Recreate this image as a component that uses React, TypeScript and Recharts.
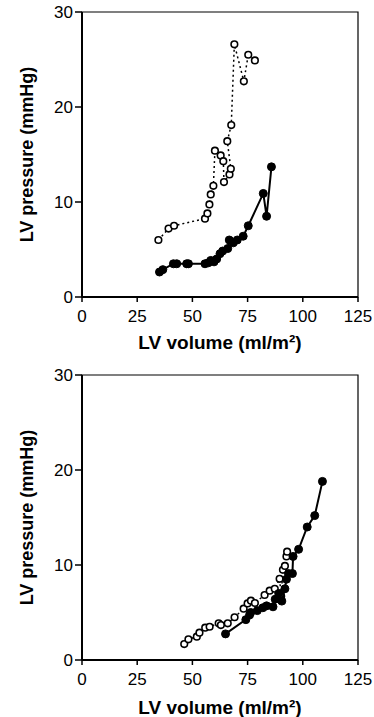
import React from "react";
import {
  ScatterChart,
  Scatter,
  XAxis,
  YAxis,
  ReferenceArea,
} from "recharts";

// valores (volume ml/m², pressão mmHg)
const volumeTicks = [0, 25, 50, 75, 100, 125];
const pressureTicks = [0, 10, 20, 30];

const topOpenVolume = [34.6, 39.2, 41.7, 55.7, 56.8, 57.7, 58.3, 59.5, 60.2, 62.8, 64.0, 64.3, 66.8, 67.4, 65.8, 67.6, 69.0, 73.3, 75.3, 78.3];
const topOpenPressure = [6.0, 7.2, 7.5, 8.25, 8.8, 9.75, 10.8, 11.7, 15.4, 14.9, 14.3, 12.1, 12.9, 13.5, 16.4, 18.1, 26.6, 22.7, 25.5, 24.9];

const topFilledVolume = [35.1, 36.6, 41.4, 42.9, 47.4, 48.2, 55.7, 57.2, 58.3, 59.8, 61.0, 62.5, 63.7, 66.0, 66.7, 68.5, 70.3, 73.0, 75.3, 82.1, 83.6, 85.8];
const topFilledPressure = [2.63, 2.88, 3.5, 3.5, 3.5, 3.5, 3.5, 3.6, 3.85, 3.7, 4.0, 4.56, 4.84, 5.1, 6.0, 5.7, 6.0, 6.4, 7.5, 10.9, 8.5, 13.7];

const bottomOpenVolume = [46.3, 48.2, 52.0, 53.2, 55.8, 57.8, 61.9, 62.9, 66.0, 69.1, 73.2, 75.0, 76.5, 78.3, 82.7, 85.0, 87.3, 89.5, 90.2, 91.0, 91.9, 92.6, 92.9];
const bottomOpenPressure = [1.68, 2.18, 2.46, 2.88, 3.4, 3.5, 3.86, 3.68, 3.86, 4.5, 5.4, 5.96, 6.25, 6.0, 6.84, 7.3, 7.5, 8.55, 6.7, 9.5, 9.9, 10.9, 11.4];

const bottomFilledVolume = [65.0, 74.2, 75.9, 76.4, 79.4, 81.9, 83.6, 86.5, 87.5, 89.1, 90.5, 91.9, 92.6, 93.5, 95.3, 95.6, 98.1, 102.0, 105.4, 108.9];
const bottomFilledPressure = [2.75, 4.25, 4.74, 5.0, 5.2, 5.5, 5.7, 5.6, 6.4, 7.0, 6.2, 7.5, 8.5, 9.1, 9.1, 10.9, 11.65, 14.0, 15.2, 18.8];

const zip = (xs: number[], ys: number[]) => xs.map((x, i) => ({ x, y: ys[i] }));

const font = "'Liberation Sans', Arial, sans-serif";

const OpenDot = (props: any) => (
  <circle cx={props.cx} cy={props.cy} r={3.3} fill="#fff" stroke="#000" strokeWidth={1.6} />
);
const FilledDot = (props: any) => (
  <circle cx={props.cx} cy={props.cy} r={4} fill="#000" stroke="#000" />
);

const YLabel = (props: any) => {
  const vb = props.viewBox;
  const cx = vb.x + 27;
  const cy = vb.y + vb.height / 2;
  return (
    <text x={cx} y={cy} transform={`rotate(-90 ${cx} ${cy})`} textAnchor="middle" dominantBaseline="central"
      fontFamily={font} fontWeight="bold" fontSize={18} fill="#000">
      LV pressure (mmHg)
    </text>
  );
};

const makeXLabel = (dy: number) => (props: any) => {
  const vb = props.viewBox;
  return (
    <text x={vb.x + vb.width / 2} y={vb.y + dy} textAnchor="middle" dominantBaseline="central"
      fontFamily={font} fontWeight="bold" fontSize={19} fill="#000">
      LV volume (ml/m²)
    </text>
  );
};

const tickStyle = { fill: "#000", fontSize: 17, fontFamily: font };

interface PanelProps {
  height: number;
  top: number;
  axisHeight: number;
  labelDy: number;
  open: { x: number; y: number }[];
  filled: { x: number; y: number }[];
}

const Panel = ({ height, top, axisHeight, labelDy, open, filled }: PanelProps) => (
  <ScatterChart width={374} height={height} margin={{ top, right: 16, bottom: 0, left: 0 }}>
    <XAxis type="number" dataKey="x" domain={[0, 125]} ticks={volumeTicks} height={axisHeight}
      tick={tickStyle} tickSize={5} tickMargin={8} axisLine={{ stroke: "#000", strokeWidth: 2 }}
      tickLine={{ stroke: "#000", strokeWidth: 1.5 }} label={{ content: makeXLabel(labelDy) }} />
    <YAxis type="number" dataKey="y" domain={[0, 30]} ticks={pressureTicks} width={82}
      tick={tickStyle} tickSize={7} tickMargin={2} axisLine={{ stroke: "#000", strokeWidth: 2 }}
      tickLine={{ stroke: "#000", strokeWidth: 1.5 }} label={{ content: YLabel }} />
    <ReferenceArea x1={0} x2={125} y1={0} y2={30} fill="none" fillOpacity={0} stroke="#000" strokeWidth={1.2} />
    <Scatter data={open} shape={OpenDot} line={{ stroke: "#000", strokeWidth: 1.5, strokeDasharray: "2 3" }}
      lineType="joint" isAnimationActive={false} />
    <Scatter data={filled} shape={FilledDot} line={{ stroke: "#000", strokeWidth: 2 }}
      lineType="joint" isAnimationActive={false} />
  </ScatterChart>
);

export default function App() {
  return (
    <div style={{ position: "absolute", left: 0, top: 0, width: 374, height: 717, background: "#fff" }}>
      <Panel height={360} top={12} axisHeight={63} labelDy={45}
        open={zip(topOpenVolume, topOpenPressure)} filled={zip(topFilledVolume, topFilledPressure)} />
      <Panel height={357} top={15} axisHeight={57} labelDy={47}
        open={zip(bottomOpenVolume, bottomOpenPressure)} filled={zip(bottomFilledVolume, bottomFilledPressure)} />
    </div>
  );
}
